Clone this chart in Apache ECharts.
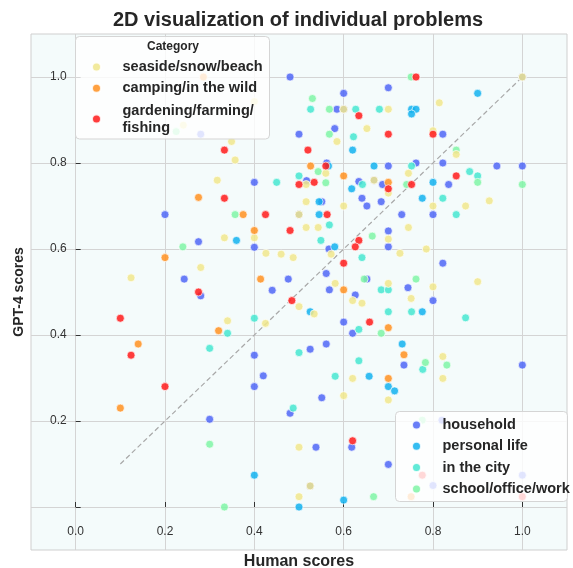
<!DOCTYPE html>
<html><head><meta charset="utf-8">
<script src="https://cdn.jsdelivr.net/npm/echarts@6/dist/echarts.min.js"></script>
<style>html,body{margin:0;padding:0;background:#fff}#c{width:573px;height:568px}</style>
</head><body><div id="c"></div>
<script>
const categories = ['household','personal life','in the city','school/office/work','seaside/snow/beach','camping/in the wild','gardening/farming/fishing'];
const colors = ['#4f66f6','#12b2ee','#45e6d0','#7ff5a6','#f0e68c','#ff9020','#ff1a1a'];
const xTicks = [0.0,0.2,0.4,0.6,0.8,1.0];
const yTicks = [0.0,0.2,0.4,0.6,0.8,1.0];
const yTickLabels = [0.2,0.4,0.6,0.8,1.0];
const diagLine = [[0.1,0.1],[1.0,1.0]];

const household = [
[0.48,1.0],[0.28,0.867],[0.5,0.867],[0.4,0.755],[0.517,0.759],[0.2,0.68],[0.275,0.617],[0.4,0.604],[0.243,0.53],[0.476,0.53],[0.44,0.504],[0.28,0.491],[0.525,0.367],[0.4,0.353],[0.42,0.305],[0.4,0.28],[0.551,0.254],[0.3,0.204],[0.48,0.218],[0.538,0.139],[0.618,0.139],[0.7,0.099],
[0.7,0.975],[0.6,0.962],[0.585,0.925],[0.58,0.88],[0.822,0.867],[0.562,0.8],[0.7,0.793],[0.762,0.8],[0.822,0.8],[0.943,0.793],[1.0,0.793],[0.634,0.757],[0.687,0.75],[0.835,0.75],[0.641,0.718],[0.652,0.7],[0.684,0.71],[0.551,0.71],[0.73,0.68],[0.8,0.68],[0.7,0.642],
[0.567,0.6],[0.7,0.605],[0.822,0.567],[0.561,0.543],[0.652,0.53],[0.568,0.505],[0.744,0.51],[0.626,0.493],[0.8,0.48],[0.6,0.43],[0.62,0.404],[0.561,0.379],[0.735,0.33],[1.0,0.33],
[0.82,0.202],[1.0,0.074],[0.8,0.05],
[1.0,1.0],[0.6,0.925],[0.668,0.76],[0.5,0.68],[0.525,0.049]
];
const personalLife = [
[0.545,0.71],[0.545,0.68],[0.36,0.62],[0.525,0.454],[0.4,0.074],[0.6,0.016],[0.5,0.0],
[0.9,0.962],[0.752,0.925],[0.762,0.925],[0.752,0.914],[0.62,0.83],[0.566,0.793],[0.668,0.793],[0.8,0.755],[0.618,0.74],[0.776,0.718],
[0.58,0.605],[0.776,0.454],[0.731,0.379],[0.657,0.304],[0.7,0.28],[0.714,0.27]
];
const inTheCity = [
[0.526,0.925],[0.45,0.755],[0.5,0.77],[0.549,0.62],[0.4,0.439],[0.34,0.404],[0.3,0.369],[0.5,0.359],[0.487,0.23],
[0.627,0.925],[0.68,0.925],[0.622,0.861],[0.752,0.793],[0.882,0.78],[0.9,0.77],[0.642,0.75],[0.822,0.718],[0.852,0.68],[0.568,0.656],
[0.641,0.58],[0.684,0.505],[0.7,0.505],[0.7,0.454],[0.752,0.454],[0.873,0.44],[0.634,0.413],[0.777,0.32],[0.634,0.34],[0.581,0.304]
];
const school = [
[0.225,0.873],[0.53,0.95],[0.543,0.78],[0.357,0.68],[0.24,0.605],[0.3,0.146],[0.667,0.024],[0.333,0.0],
[0.751,1.0],[0.568,0.925],[0.568,0.867],[0.852,0.83],[0.56,0.754],[0.741,0.75],[0.9,0.755],[1.0,0.75],[0.664,0.63],
[0.646,0.53],[0.762,0.53],[0.684,0.404],[0.783,0.336],[0.831,0.33],[0.776,0.202]
];
const seaside = [
[0.4,0.943],[0.241,0.888],[0.349,0.85],[0.357,0.807],[0.317,0.76],[0.516,0.75],[0.516,0.71],[0.5,0.68],[0.516,0.65],[0.543,0.65],[0.333,0.626],[0.4,0.626],[0.426,0.59],[0.46,0.588],[0.487,0.58],[0.28,0.557],[0.124,0.533],[0.5,0.466],[0.534,0.449],[0.34,0.433],[0.425,0.427],[0.7,0.249],[0.5,0.139],[0.525,0.049],[0.5,0.024],
[1.0,1.0],[0.6,0.925],[0.7,0.925],[0.814,0.94],[0.652,0.88],[0.8,0.875],[0.585,0.85],[0.852,0.82],[0.56,0.776],[0.745,0.776],[0.668,0.76],[0.7,0.73],[0.6,0.7],[0.8,0.7],[0.873,0.7],[0.926,0.712],[0.745,0.65],[0.7,0.623],
[0.572,0.588],[0.726,0.59],[0.785,0.6],[0.9,0.524],[0.581,0.52],[0.7,0.52],[0.8,0.512],[0.62,0.48],[0.641,0.474],[0.751,0.485],[0.822,0.35],[0.62,0.299],[0.822,0.299],[0.6,0.259]
];
const camping = [
[0.286,1.0],[0.526,0.793],[0.275,0.72],[0.375,0.68],[0.4,0.643],[0.2,0.58],[0.414,0.53],[0.32,0.41],[0.14,0.379],[0.1,0.23],
[0.6,0.77],[0.7,0.755],
[0.6,0.505],[0.7,0.417],[0.735,0.354],[0.7,0.299],[0.751,0.024]
];
const gardening = [
[0.333,0.83],[0.52,0.83],[0.5,0.75],[0.534,0.755],[0.333,0.718],[0.425,0.68],[0.48,0.643],[0.275,0.5],[0.484,0.48],[0.1,0.439],[0.124,0.353],[0.2,0.28],[0.62,0.154],
[0.762,1.0],[0.634,0.91],[0.7,0.867],[0.8,0.867],[0.56,0.793],[0.852,0.77],[0.7,0.74],[0.752,0.75],[0.563,0.68],[0.634,0.62],
[0.626,0.605],[0.6,0.567],[0.658,0.43],
[0.776,0.074],[1.0,0.024]
];
const seriesData = [household, personalLife, inTheCity, school, seaside, camping, gardening];

const FONT = "'Liberation Sans', Arial, sans-serif";
const chart = echarts.init(document.getElementById('c'), null, {renderer: 'canvas'});

const series = [{
  type: 'line', data: diagLine, symbol: 'none', silent: true, z: 1,
  lineStyle: {color: '#a8a8a8', width: 1.2, type: [5, 3]}
}];
categories.forEach((name, i) => {
  series.push({
    name: name, type: 'scatter', data: seriesData[i], symbolSize: 8, z: 2,
    itemStyle: {color: colors[i], opacity: 0.85, borderColor: '#ffffff', borderWidth: 0.8}
  });
});

const legendText = {fontSize: 14.5, fontWeight: 'bold', color: '#262626', fontFamily: FONT, lineHeight: 17};
const legendBase = {orient: 'vertical', icon: 'circle', itemWidth: 42, itemHeight: 9, itemGap: 4.3, padding: 0, textStyle: legendText, selectedMode: false};

chart.setOption({
  animation: false,
  backgroundColor: '#ffffff',
  textStyle: {fontFamily: FONT},
  title: {
    text: '2D visualization of individual problems', left: 113, top: 10, padding: 0,
    textStyle: {fontSize: 20, fontWeight: 'bold', color: '#262626', fontFamily: FONT}
  },
  grid: {left: 31, right: 6, top: 34, bottom: 18, show: true, backgroundColor: '#f4fbfb',
         borderColor: '#cfcfcf', borderWidth: 1, containLabel: false, outerBoundsMode: 'none'},
  xAxis: {
    type: 'value', min: -0.1, max: 1.1,
    name: 'Human scores', nameLocation: 'middle', nameGap: 4,
    nameTextStyle: {fontSize: 16, fontWeight: 'bold', color: '#262626', verticalAlign: 'top', fontFamily: FONT},
    axisLine: {show: false},
    axisTick: {show: true, inside: true, length: 5, lineStyle: {color: '#333'}, customValues: xTicks},
    axisLabel: {inside: true, margin: 12, fontSize: 12, color: '#333', customValues: xTicks, formatter: v => v.toFixed(1)},
    splitLine: {show: true, lineStyle: {color: '#d4d4d4', width: 1}}
  },
  yAxis: {
    type: 'value', min: -0.1, max: 1.1,
    name: 'GPT-4 scores', nameLocation: 'middle', nameGap: 5,
    nameTextStyle: {fontSize: 14, fontWeight: 'bold', color: '#262626', fontFamily: FONT},
    axisLine: {show: false},
    axisTick: {show: true, inside: true, length: 5, lineStyle: {color: '#333'}, customValues: yTicks},
    axisLabel: {inside: true, margin: 19, fontSize: 12, color: '#333', customValues: yTickLabels, formatter: v => v.toFixed(1)},
    splitLine: {show: true, lineStyle: {color: '#d4d4d4', width: 1}}
  },
  legend: [
    Object.assign({}, legendBase, {data: ['seaside/snow/beach', 'camping/in the wild'], left: 91, top: 58.5}),
    Object.assign({}, legendBase, {data: ['gardening/farming/fishing'], left: 91, top: 102,
      formatter: n => 'gardening/farming/\nfishing'}),
    Object.assign({}, legendBase, {data: ['household', 'personal life', 'in the city', 'school/office/work'], left: 411, top: 416.5})
  ],
  graphic: [
    {type: 'rect', z: 3, shape: {x: 75.5, y: 36.5, width: 194, height: 102.5, r: 4},
     style: {fill: 'rgba(255,255,255,0.8)', stroke: '#d5d5d5', lineWidth: 1}},
    {type: 'text', z: 5, x: 173, y: 47,
     style: {text: 'Category', font: 'bold 12px ' + FONT, fill: '#262626', align: 'center', verticalAlign: 'middle', textAlign: 'center', textVerticalAlign: 'middle'}},
    {type: 'rect', z: 3, shape: {x: 395.5, y: 411.5, width: 172, height: 90, r: 4},
     style: {fill: 'rgba(255,255,255,0.8)', stroke: '#d5d5d5', lineWidth: 1}}
  ],
  series: series
});
</script>
</body></html>
